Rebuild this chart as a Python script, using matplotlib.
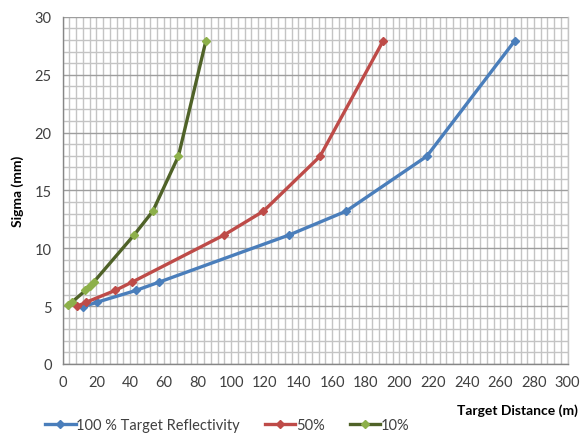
import matplotlib
matplotlib.use("Agg")
import matplotlib.pyplot as plt
from matplotlib.ticker import MultipleLocator

plt.rcParams['font.family'] = ['Lato', 'DejaVu Sans']

# Data
x_100 = [12.2, 20.2, 43.4, 57.0, 134.6, 168.3, 216.3, 268.7]
y_100 = [4.95, 5.33, 6.35, 7.06, 11.15, 13.2, 17.95, 27.95]

x_50 = [8.7, 13.8, 31.1, 41.0, 95.9, 119.2, 152.9, 190.5]
y_50 = [5.0, 5.33, 6.35, 7.06, 11.15, 13.2, 17.95, 27.95]

x_10 = [3.0, 5.5, 13.5, 16.0, 18.3, 42.4, 53.5, 68.7, 85.1]
y_10 = [5.12, 5.35, 6.35, 6.75, 7.06, 11.15, 13.2, 17.95, 27.95]

labels = ['100 % Target Reflectivity', '50%', '10%']
x_ticks = list(range(0, 301, 20))
y_ticks = list(range(0, 31, 5))

fig = plt.figure(figsize=(5.81, 4.35), dpi=100)
ax = fig.add_axes([0.108, 0.161, 0.869, 0.798])

ax.plot(x_100, y_100, color='#4A7EBB', lw=2.4, marker='D', ms=4,
        mfc='#4A7EBB', mec='#4A7EBB', label=labels[0], zorder=3)
ax.plot(x_50, y_50, color='#BE4B48', lw=2.4, marker='D', ms=4,
        mfc='#BE4B48', mec='#BE4B48', label=labels[1], zorder=3)
ax.plot(x_10, y_10, color='#4F6228', lw=2.4, marker='D', ms=4,
        mfc='#8DB04A', mec='#8DB04A', label=labels[2], zorder=4)

ax.set_xlim(0, 300)
ax.set_ylim(0, 30)
ax.set_xticks(x_ticks)
ax.set_yticks(y_ticks)
ax.xaxis.set_minor_locator(MultipleLocator(4))
ax.yaxis.set_minor_locator(MultipleLocator(1))
ax.grid(which='minor', color='#C4C4C4', lw=1.0, zorder=0)
ax.grid(which='major', axis='x', color='#C4C4C4', lw=1.0, zorder=0)
ax.grid(which='major', axis='y', color='#9E9E9E', lw=1.0, zorder=1)
ax.set_axisbelow(True)
ax.tick_params(which='both', length=0, labelsize=10.5, colors='#404040', pad=8)
for s in ax.spines.values():
    s.set_color('#868686')
    s.set_linewidth(1.0)
ax.spines['top'].set_visible(False)
ax.spines['right'].set_color('#C4C4C4')

fig.text(0.031, 0.56, 'Sigma (mm)', rotation=90, fontsize=10, fontweight='bold',
         ha='center', va='center')
fig.text(0.995, 0.057, 'Target Distance (m)', fontsize=10, fontweight='bold',
         ha='right', va='center')

fig.legend(loc='lower left', bbox_to_anchor=(0.055, -0.025), ncol=3, frameon=False,
           fontsize=10.5, handlelength=2.1, handletextpad=0.05, columnspacing=1.7,
           labelcolor='#404040', markerscale=0.9)

fig.savefig('out.png', dpi=100)
